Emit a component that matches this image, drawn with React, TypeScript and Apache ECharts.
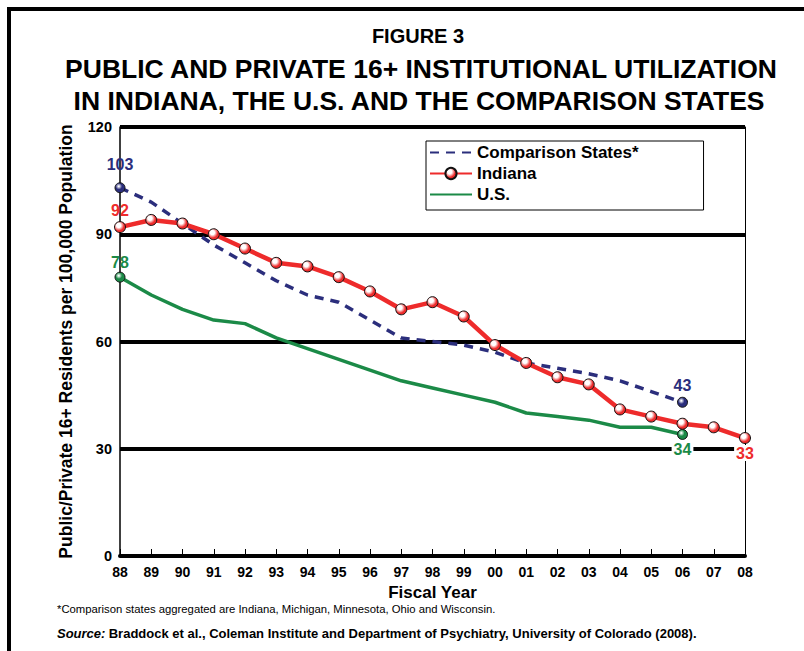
import React, { useEffect, useRef } from "react";
import * as echarts from "echarts";

const years = ["88","89","90","91","92","93","94","95","96","97","98","99","00","01","02","03","04","05","06","07","08"];
const indiana = [92,94,93,90,86,82,81,78,74,69,71,67,59,54,50,48,41,39,37,36,33];
const comparison = [103,99,93,87,82,77,73,71,66,61,60,59,57,54,52.5,51,49,46,43];
const us = [78,73,69,66,65,61,58,55,52,49,47,45,43,40,39,38,36,36,34];
const yTicks = [0, 30, 60, 90, 120];

const NAVY = "#2b2e7c";
const RED = "#ee2b2b";
const GREEN = "#1b8a47";
const FONT = "'Liberation Sans', Arial, sans-serif";

function ball(color: string, white: number) {
  return new echarts.graphic.RadialGradient(0.38, 0.35, 0.65, [
    { offset: 0, color: "#ffffff" },
    { offset: white, color: "#ffffff" },
    { offset: Math.min(1, white + 0.45), color },
    { offset: 1, color },
  ]);
}

function endPoints(values: number[], color: string, firstDist: number, lastPos: string, lastDist: number, lastBg: boolean) {
  const n = values.length;
  return values.map((v, i) => {
    if (i === 0 || i === n - 1) {
      return {
        value: v,
        symbol: "circle",
        symbolSize: 10,
        itemStyle: { color: ball(color, 0.05), borderColor: "#111", borderWidth: 1, opacity: 1 },
        label: {
          show: true,
          position: i === 0 ? "top" : lastPos,
          distance: i === 0 ? firstDist : lastDist,
          formatter: String(Math.round(v)),
          color,
          fontFamily: FONT,
          fontWeight: "bold",
          fontSize: 16,
          backgroundColor: i === n - 1 && lastBg ? "#ffffff" : "transparent",
          padding: [0, 2, 0, 2],
        },
      };
    }
    return { value: v, symbol: "none" };
  });
}

export default function App() {
  const ref = useRef<HTMLDivElement>(null);
  useEffect(() => {
    document.body.style.margin = "0";
    const chart = echarts.init(ref.current!, null, { renderer: "svg" });
    const indianaData = indiana.map((v, i) => {
      if (i === 0 || i === indiana.length - 1) {
        return {
          value: v,
          label: {
            show: true,
            position: i === 0 ? "top" : "bottom",
            distance: i === 0 ? 3 : 1,
            formatter: String(v),
            color: RED,
            fontFamily: FONT,
            fontWeight: "bold",
            fontSize: 16,
            backgroundColor: i === 0 ? "transparent" : "#ffffff",
            padding: [0, 2, 0, 2],
          },
        };
      }
      return v;
    });
    chart.setOption({
      animation: false,
      backgroundColor: "#ffffff",
      textStyle: { fontFamily: FONT },
      title: [
        { text: "FIGURE 3", left: 413, top: 21, textAlign: "center", textStyle: { fontFamily: FONT, fontWeight: "bold", fontSize: 20, color: "#000" } },
        { text: "PUBLIC AND PRIVATE 16+ INSTITUTIONAL UTILIZATION", left: 416, top: 50, textAlign: "center", textStyle: { fontFamily: FONT, fontWeight: "bold", fontSize: 26.5, color: "#000" } },
        { text: "IN INDIANA, THE U.S. AND THE COMPARISON STATES", left: 414, top: 82, textAlign: "center", textStyle: { fontFamily: FONT, fontWeight: "bold", fontSize: 26.5, color: "#000" } },
      ],
      grid: { left: 120, right: 59, top: 127, bottom: 95, containLabel: false },
      legend: {
        left: 426,
        top: 141,
        orient: "vertical",
        backgroundColor: "#ffffff",
        borderColor: "#000",
        borderWidth: 1,
        padding: [3, 65, 7, 3],
        itemGap: 4,
        itemWidth: 42,
        itemHeight: 14,
        textStyle: { fontFamily: FONT, fontWeight: "bold", fontSize: 17, color: "#000" },
        data: [
          { name: "Comparison States*", itemStyle: { opacity: 0 } },
          { name: "Indiana" },
          { name: "U.S.", itemStyle: { opacity: 0 } },
        ],
      },
      xAxis: {
        type: "category",
        data: years,
        boundaryGap: false,
        name: "Fiscal Year",
        nameLocation: "middle",
        nameGap: 28,
        nameTextStyle: { fontFamily: FONT, fontWeight: "bold", fontSize: 17, color: "#000" },
        axisLine: { lineStyle: { color: "#000", width: 4 } },
        axisTick: { show: true, inside: true, length: 7, lineStyle: { color: "#000", width: 1 } },
        axisLabel: { color: "#000", fontFamily: FONT, fontWeight: "bold", fontSize: 14, margin: 9 },
        splitLine: { show: false },
      },
      yAxis: [
        {
          type: "value",
          min: yTicks[0],
          max: yTicks[yTicks.length - 1],
          interval: 30,
          name: "Public/Private 16+ Residents per 100,000 Population",
          nameLocation: "middle",
          nameGap: 45,
          nameTextStyle: { fontFamily: FONT, fontWeight: "bold", fontSize: 17.5, color: "#000" },
          axisLine: { show: true, lineStyle: { color: "#000", width: 1.5 } },
          axisTick: { show: false },
          axisLabel: { color: "#000", fontFamily: FONT, fontWeight: "bold", fontSize: 14.5, margin: 8 },
          splitLine: { show: true, lineStyle: { color: "#000", width: 4 } },
        },
        {
          type: "value",
          min: yTicks[0],
          max: yTicks[yTicks.length - 1],
          interval: 30,
          position: "right",
          axisLine: { show: true, lineStyle: { color: "#000", width: 1 } },
          axisTick: { show: false },
          axisLabel: { show: false },
          splitLine: { show: false },
        },
      ],
      series: [
        {
          name: "Comparison States*",
          type: "line",
          data: endPoints(comparison, NAVY, 10, "top", 3, false),
          symbol: "none",
          lineStyle: { color: NAVY, width: 3.5, type: [9, 7] },
          itemStyle: { color: NAVY },
          z: 3,
        },
        {
          name: "Indiana",
          type: "line",
          data: indianaData,
          symbol: "circle",
          symbolSize: 11,
          showSymbol: true,
          lineStyle: { color: RED, width: 4.5 },
          itemStyle: { color: ball(RED, 0.3), borderColor: "#111", borderWidth: 1 },
          z: 4,
        },
        {
          name: "U.S.",
          type: "line",
          data: endPoints(us, GREEN, 1, "bottom", 2, true),
          symbol: "none",
          lineStyle: { color: GREEN, width: 3.5 },
          itemStyle: { color: GREEN },
          z: 2,
        },
      ],
      graphic: [
        { type: "rect", shape: { x: 9, y: 9, width: 900, height: 800 }, style: { fill: "none", stroke: "#000", lineWidth: 4 }, silent: true },
        { type: "text", left: 57, top: 603, style: { text: "*Comparison states aggregated are Indiana, Michigan, Minnesota, Ohio and Wisconsin.", fontFamily: FONT, fontSize: 11.3, fill: "#000" } },
        {
          type: "text",
          left: 57,
          top: 627,
          style: {
            text: "{i|Source:} {b|Braddock et al., Coleman Institute and Department of Psychiatry, University of Colorado (2008).}",
            rich: {
              i: { fontFamily: FONT, fontSize: 13, fontWeight: "bold", fontStyle: "italic", fill: "#000" },
              b: { fontFamily: FONT, fontSize: 13, fontWeight: "bold", fill: "#000" },
            },
          },
        },
      ],
    });
    return () => chart.dispose();
  }, []);
  return <div ref={ref} style={{ position: "absolute", left: 0, top: 0, width: 804, height: 651 }} />;
}
